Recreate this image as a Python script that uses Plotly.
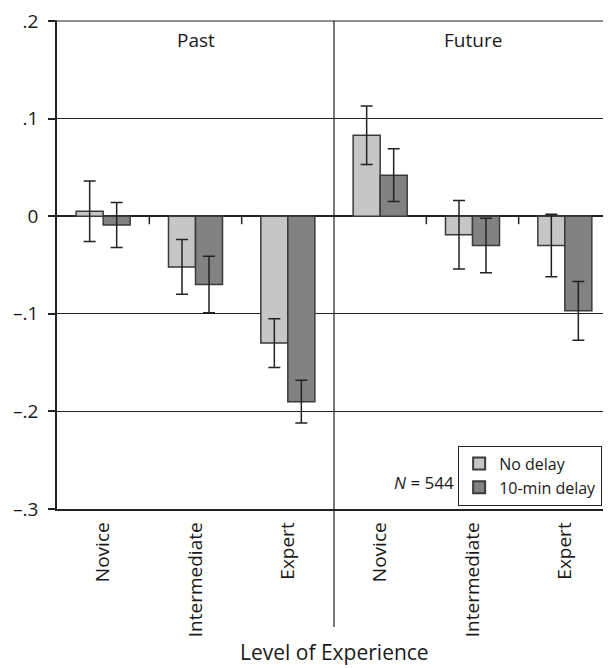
import plotly.graph_objects as go

# ---- data ----
panels = ["Past", "Future"]
levels = ["Novice", "Intermediate", "Expert"]
tick_labels = levels + levels
no_delay = [0.005, -0.052, -0.130, 0.083, -0.019, -0.030]
no_delay_err = [0.031, 0.028, 0.025, 0.030, 0.035, 0.032]
delay_10 = [-0.009, -0.070, -0.190, 0.042, -0.030, -0.097]
delay_10_err = [0.023, 0.029, 0.022, 0.027, 0.028, 0.030]
series_names = ["No delay", "10-min delay"]
y_ticks = [0.2, 0.1, 0.0, -0.1, -0.2, -0.3]
y_tick_text = [".2", ".1", "0", "\u2013.1", "\u2013.2", "\u2013.3"]
n_label = "<i>N</i> = 544"
x_title = "Level of Experience"

FONT = "Open Sans"
TXT = "#1a1a1a"
xpos = list(range(len(tick_labels)))

fig = go.Figure()
for name, vals, errs, col in [
    (series_names[0], no_delay, no_delay_err, "#c6c6c6"),
    (series_names[1], delay_10, delay_10_err, "#828282"),
]:
    fig.add_trace(go.Bar(
        x=xpos, y=vals, name=name,
        marker=dict(color=col, line=dict(color="#3a3a3a", width=1.5)),
        error_y=dict(type="data", array=errs, visible=True,
                     color="#222222", thickness=1.5, width=6),
    ))

shapes = []
# short ticks on the zero line between groups (not at the panel divider)
for xb in [0.5, 1.5, 3.5, 4.5]:
    shapes.append(dict(type="line", xref="x", yref="y", x0=xb, x1=xb,
                       ysizemode="pixel", yanchor=0, y0=0, y1=-8,
                       line=dict(color="#222222", width=1.5)))
# panel divider
shapes.append(dict(type="line", xref="paper", yref="paper", x0=0.5, x1=0.5,
                   y0=-0.242, y1=1, line=dict(color="#222222", width=1.2)))
# top rule at the upper end of the value axis (with its tick)
shapes.append(dict(type="line", xref="paper", yref="paper", x0=0, x1=1,
                   y0=1, y1=1, line=dict(color="#222222", width=1.2)))
shapes.append(dict(type="line", xref="paper", yref="paper", x0=0, x1=0,
                   xsizemode="pixel", xanchor=0, y0=1, y1=1,
                   line=dict(color="#222222", width=1.5)))
shapes[-1].update(x0=-7, x1=0)

annotations = [
    dict(text=panels[0], x=1, xref="x", y=0.962, yref="paper", yanchor="middle",
         showarrow=False, font=dict(family=FONT, size=19, color=TXT)),
    dict(text=panels[1], x=4, xref="x", y=0.962, yref="paper", yanchor="middle",
         showarrow=False, font=dict(family=FONT, size=19, color=TXT)),
    dict(text=n_label, x=0.662, xref="paper", y=0.055, yref="paper",
         yanchor="middle", showarrow=False,
         font=dict(family=FONT, size=17, color=TXT)),
    dict(text=x_title, x=0.5, xref="paper", y=-0.293, yref="paper",
         showarrow=False, yanchor="middle",
         font=dict(family=FONT, size=21, color=TXT)),
]

fig.update_layout(
    width=603, height=660,
    margin=dict(l=49, r=0, t=9, b=159),
    paper_bgcolor="white", plot_bgcolor="white",
    barmode="group", bargap=0.415, bargroupgap=0,
    font=dict(family=FONT, size=18, color=TXT),
    shapes=shapes, annotations=annotations,
    legend=dict(x=0.984, xanchor="right", y=0.130, yanchor="top",
                bordercolor="#222222", borderwidth=1, bgcolor="white",
                font=dict(family=FONT, size=16, color=TXT),
                tracegroupgap=0, itemsizing="constant"),
    showlegend=True,
)
fig.update_xaxes(
    range=[-0.5, 5.5], tickmode="array", tickvals=xpos, ticktext=tick_labels,
    tickangle=-90, ticks="", showline=True, linecolor="#222222", linewidth=1.5,
    showgrid=False, zeroline=False, ticklabelstandoff=4,
    tickfont=dict(family=FONT, size=19, color=TXT),
)
fig.update_yaxes(
    range=[-0.3, 0.2], tickmode="array", tickvals=y_ticks, ticktext=y_tick_text,
    ticks="outside", ticklen=7, tickcolor="#222222", tickwidth=1.5,
    showline=True, linecolor="#222222", linewidth=1.5,
    showgrid=True, gridcolor="#222222", gridwidth=1.2,
    zeroline=True, zerolinecolor="#222222", zerolinewidth=1.5,
    ticklabelstandoff=6, ticklabeloverflow="allow",
    tickfont=dict(family=FONT, size=19, color=TXT),
)

fig.write_html("out.html")
